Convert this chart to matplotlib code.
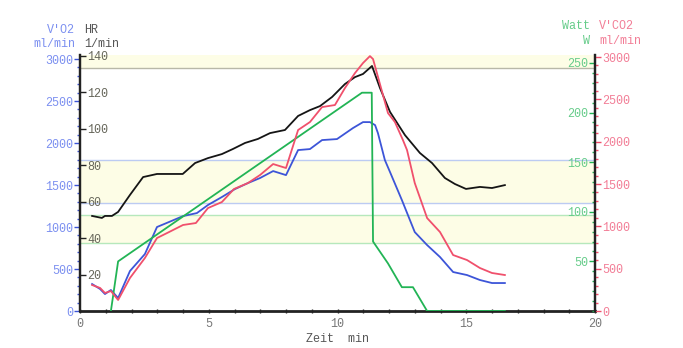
import matplotlib.pyplot as plt
from matplotlib.ticker import MultipleLocator

plt.rcParams['font.family'] = ['Liberation Mono', 'DejaVu Sans Mono']
plt.rcParams['font.size'] = 8.5

# V'O2 (ml/min)
vo2_t = [0.47, 0.78, 0.97, 1.2, 1.48, 1.94, 2.52, 2.99, 3.46, 4.0, 4.54, 4.97, 5.51, 6.02,
         6.52, 6.99, 7.5, 8.0, 8.47, 8.93, 9.4, 9.98, 10.6, 10.99, 11.26, 11.46, 11.57,
         11.84, 12.04, 12.5, 13.0, 13.48, 13.98, 14.49, 15.03, 15.53, 16.0, 16.5]
vo2 = [321, 262, 202, 250, 155, 476, 678, 1000, 1060, 1130, 1166, 1262, 1357, 1452,
       1523, 1583, 1666, 1618, 1916, 1928, 2035, 2047, 2178, 2249, 2249, 2213, 2118,
       1797, 1654, 1321, 940, 785, 643, 464, 428, 369, 333, 333]

# V'CO2 (ml/min)
vco2_t = [0.47, 0.78, 0.97, 1.2, 1.48, 1.94, 2.52, 2.99, 3.46, 4.0, 4.5, 4.97, 5.51, 5.98,
          6.52, 6.99, 7.5, 8.0, 8.47, 8.93, 9.4, 9.9, 10.29, 10.68, 10.99, 11.26, 11.38,
          11.53, 11.96, 12.23, 12.54, 12.7, 13.0, 13.48, 13.98, 14.49, 15.03, 15.53, 16.0, 16.5]
vco2 = [307, 272, 213, 236, 130, 390, 626, 862, 933, 1016, 1039, 1216, 1287, 1441,
        1511, 1606, 1736, 1689, 2138, 2232, 2409, 2433, 2634, 2811, 2929, 3011, 2976,
        2811, 2338, 2232, 2020, 1901, 1512, 1098, 933, 661, 602, 508, 449, 425]

# HR (1/min)
hr_t = [0.47, 0.85, 0.97, 1.24, 1.48, 1.94, 2.45, 2.99, 3.99, 4.47, 4.97, 5.51, 5.94,
        6.41, 6.91, 7.38, 7.96, 8.47, 8.93, 9.32, 9.79, 10.29, 10.68, 10.99, 11.34,
        11.65, 12.04, 12.62, 13.2, 13.67, 14.17, 14.56, 14.99, 15.53, 16.0, 16.5]
hr = [52.1, 51.0, 52.1, 52.1, 54.3, 63.6, 73.4, 75.1, 75.1, 81.1, 83.8, 86.0, 88.8,
      92.1, 94.3, 97.5, 99.2, 106.9, 110.1, 112.3, 117.3, 124.4, 128.2, 129.9, 134.3,
      122.2, 109.1, 96.4, 86.6, 81.1, 72.9, 69.6, 66.9, 68.0, 67.4, 69.0]

# Watt (W)
watt_t = [1.2, 1.48, 10.95, 11.33, 11.38, 11.96, 12.5, 12.93, 13.48, 16.5]
watt = [0, 50, 220, 220, 70, 48, 24, 24, 0, 0]

blue = '#3d55d8'
blue_lbl = '#7b8ff0'
red = '#f0506c'
red_lbl = '#f27d96'
green = '#22b455'
green_lbl = '#66cc8a'
hr_lbl = '#66665a'

fig = plt.figure(figsize=(6.83, 3.48), dpi=100)
ax = fig.add_axes([80 / 683, 37 / 348, 515 / 683, 256 / 348])

# background bands (in V'O2 units)
ax.axhspan(2893, 3048, color='#fdfde6', lw=0, zorder=0)
ax.axhspan(1286, 1798, color='#fdfde6', lw=0, zorder=0)
ax.axhspan(809, 1143, color='#fdfde6', lw=0, zorder=0)
ax.axhline(2893, color='#b8b8a8', lw=1, zorder=1)
ax.axhline(1798, color='#bccbf2', lw=1, zorder=1)
ax.axhline(1286, color='#bccbf2', lw=1, zorder=1)
ax.axhline(1143, color='#b6e8bc', lw=1, zorder=1)
ax.axhline(809, color='#b6e8bc', lw=1, zorder=1)

ax.set_xlim(0, 20)
ax.set_ylim(0, 3048)
ax.xaxis.set_major_locator(MultipleLocator(5))
ax.xaxis.set_minor_locator(MultipleLocator(1))
ax.yaxis.set_major_locator(MultipleLocator(500))
ax.yaxis.set_minor_locator(MultipleLocator(100))
ax.tick_params(axis='x', colors='#222222', labelcolor='#777777', length=3, width=1, direction='inout')
ax.tick_params(axis='x', which='minor', length=3, width=1, direction='inout', colors='#222222')
ax.tick_params(axis='y', colors=blue, labelcolor=blue_lbl, length=4, width=1, pad=1)
ax.tick_params(axis='y', which='minor', colors=blue, length=2, width=1)
ax.spines['top'].set_visible(False)
ax.spines['right'].set_visible(False)
ax.spines['left'].set_linewidth(1.6)
ax.spines['bottom'].set_linewidth(2)
ax.spines['left'].set_color('#222222')
ax.spines['bottom'].set_color('#222222')
ax.set_xlabel('Zeit  min', color='#555555', labelpad=2)

# HR axis: ticks and labels to the right of the left spine
ax_hr = ax.twinx()
ax_hr.set_ylim(0, 140.3)
ax_hr.spines['right'].set_position(('axes', 0))
for s in ['top', 'left', 'bottom']:
    ax_hr.spines[s].set_visible(False)
ax_hr.spines['right'].set_color('#222222')
ax_hr.spines['right'].set_linewidth(1.6)
ax_hr.yaxis.set_major_locator(MultipleLocator(20))
ax_hr.set_yticks([20, 40, 60, 80, 100, 120, 140])
ax_hr.tick_params(axis='y', colors='#222222', labelcolor=hr_lbl, length=4, width=1, pad=1)

# Watt axis: ticks and labels to the left of the right spine
ax_w = ax.twinx()
ax_w.set_ylim(0, 258)
ax_w.yaxis.set_ticks_position('left')
ax_w.spines['left'].set_position(('axes', 1))
for s in ['top', 'right', 'bottom']:
    ax_w.spines[s].set_visible(False)
ax_w.spines['left'].set_color('#222222')
ax_w.spines['left'].set_linewidth(1.6)
ax_w.yaxis.set_major_locator(MultipleLocator(50))
ax_w.yaxis.set_minor_locator(MultipleLocator(10))
ax_w.set_yticks([50, 100, 150, 200, 250])
ax_w.tick_params(axis='y', colors=green, labelcolor=green_lbl, length=4, width=1, pad=1)
ax_w.tick_params(axis='y', which='minor', colors=green, length=2, width=1)

# V'CO2 axis on the right
ax_c = ax.twinx()
ax_c.set_ylim(0, 3024)
for s in ['top', 'left', 'bottom']:
    ax_c.spines[s].set_visible(False)
ax_c.spines['right'].set_color('#222222')
ax_c.spines['right'].set_linewidth(1.6)
ax_c.yaxis.set_major_locator(MultipleLocator(500))
ax_c.yaxis.set_minor_locator(MultipleLocator(100))
ax_c.tick_params(axis='y', colors=red, labelcolor=red_lbl, length=4, width=1, pad=1)
ax_c.tick_params(axis='y', which='minor', colors=red, length=2, width=1)

ax.plot(vo2_t, vo2, color=blue, lw=1.3, zorder=3)
ax_w.plot(watt_t, watt, color=green, lw=1.3)
ax_c.plot(vco2_t, vco2, color=red, lw=1.3)
ax_hr.plot(hr_t, hr, color='#151515', lw=1.3)

# header labels
fig.text(75 / 683, 1 - 30 / 348, "V'O2", color=blue_lbl, ha='right', va='center')
fig.text(75 / 683, 1 - 44 / 348, "ml/min", color=blue_lbl, ha='right', va='center')
fig.text(84 / 683, 1 - 30 / 348, "HR", color='#555555', ha='left', va='center')
fig.text(84 / 683, 1 - 44 / 348, "1/min", color='#555555', ha='left', va='center')
fig.text(590 / 683, 1 - 26 / 348, "Watt", color=green_lbl, ha='right', va='center')
fig.text(590 / 683, 1 - 41 / 348, "W", color=green_lbl, ha='right', va='center')
fig.text(599 / 683, 1 - 26 / 348, "V'CO2", color=red_lbl, ha='left', va='center')
fig.text(599 / 683, 1 - 41 / 348, "ml/min", color=red_lbl, ha='left', va='center')

fig.savefig('out.png', dpi=100)
